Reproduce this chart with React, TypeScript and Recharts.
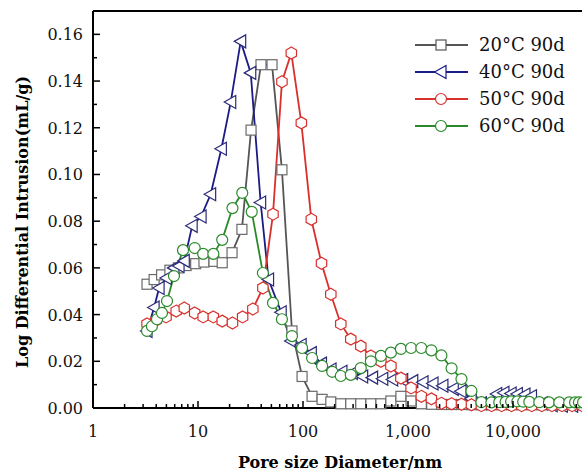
import React from 'react';
import { LineChart, Line, XAxis, YAxis, ReferenceLine } from 'recharts';

const FONT = '"DejaVu Serif", "Liberation Serif", serif';

// pore diameter (nm) / log differential intrusion (mL/g)
const x20 = [3.27, 3.82, 4.5, 5.4, 6.5, 7.7, 9.5, 11.4, 14.2, 17.0, 21.1, 26.2, 32, 39.8, 50.7, 63, 78.5, 98, 122, 152, 184, 229, 285, 355, 443, 552, 687, 856, 1070, 1340, 1680, 2100, 2600, 3250, 4050, 5050, 6300, 7850, 9800, 12200, 15200, 19000, 23700, 29500, 36800, 45800];
const y20 = [0.053, 0.055, 0.057, 0.059, 0.06, 0.061, 0.0618, 0.0625, 0.0628, 0.0622, 0.0665, 0.0765, 0.119, 0.147, 0.147, 0.102, 0.033, 0.0135, 0.005, 0.0037, 0.0026, 0.0018, 0.0018, 0.0018, 0.0018, 0.0018, 0.003, 0.005, 0.003, 0.0018, 0.0016, 0.0015, 0.0015, 0.0015, 0.0014, 0.0014, 0.0014, 0.0014, 0.0014, 0.0014, 0.0014, 0.0014, 0.0014, 0.0014, 0.0014, 0.0014];

const x40 = [3.27, 3.82, 4.26, 5.0, 5.9, 6.6, 7.4, 8.8, 10.7, 13.2, 16.7, 20.5, 25.5, 31.8, 39.5, 47, 62, 77, 96, 120, 150, 185, 235, 295, 370, 460, 575, 715, 890, 1110, 1390, 1730, 2150, 2700, 3200, 4000, 5000, 5900, 7000, 8200, 9600, 11000, 13000, 15000, 19000, 23600, 29500, 37000, 46000];
const y40 = [0.033, 0.043, 0.0514, 0.0557, 0.06, 0.0608, 0.063, 0.078, 0.082, 0.0915, 0.111, 0.131, 0.157, 0.1435, 0.088, 0.055, 0.041, 0.0287, 0.027, 0.0235, 0.019, 0.0165, 0.0155, 0.015, 0.0135, 0.013, 0.0125, 0.0122, 0.012, 0.0115, 0.011, 0.0105, 0.0095, 0.0082, 0.0072, 0.004, 0.002, 0.002, 0.006, 0.0065, 0.0062, 0.006, 0.0058, 0.005, 0.002, 0.0012, 0.001, 0.001, 0.001];

const x50 = [3.27, 3.98, 4.96, 6.2, 7.4, 9.3, 11.2, 14.0, 17.0, 21.3, 26.6, 33.3, 41.5, 51.8, 63, 77.4, 96.4, 120, 150, 184, 229, 285, 355, 443, 552, 687, 856, 1070, 1340, 1670, 2080, 2600, 3230, 4020, 5000, 6250, 7800, 9700, 12100, 15100, 18800, 23500, 29300, 36500, 45500];
const y50 = [0.036, 0.0375, 0.039, 0.0415, 0.0428, 0.0407, 0.039, 0.039, 0.0372, 0.0364, 0.039, 0.0424, 0.0514, 0.083, 0.1397, 0.152, 0.1221, 0.0808, 0.062, 0.0487, 0.036, 0.0295, 0.0265, 0.0223, 0.02, 0.018, 0.0128, 0.0086, 0.005, 0.0039, 0.002, 0.0018, 0.0016, 0.0014, 0.001, 0.001, 0.001, 0.001, 0.001, 0.001, 0.001, 0.001, 0.001, 0.001, 0.001];

const x60 = [3.27, 3.64, 4.07, 4.54, 5.07, 5.9, 7.2, 9.3, 11.2, 14.0, 17.0, 21.3, 26.4, 32.5, 41.5, 51.8, 63, 78.5, 98, 122, 152, 190, 229, 285, 355, 443, 552, 687, 856, 1070, 1340, 1670, 2080, 2600, 3230, 4020, 5000, 6230, 7400, 8500, 9600, 11000, 12500, 14300, 17800, 22000, 27600, 34300, 39000, 42500, 46500];
const y60 = [0.033, 0.035, 0.038, 0.0407, 0.0458, 0.0565, 0.0676, 0.0685, 0.066, 0.066, 0.072, 0.0856, 0.0921, 0.084, 0.0578, 0.045, 0.038, 0.0308, 0.0257, 0.0214, 0.018, 0.0155, 0.0137, 0.0142, 0.0171, 0.02, 0.0223, 0.0237, 0.0253, 0.0257, 0.0257, 0.0247, 0.0225, 0.017, 0.0124, 0.0073, 0.0025, 0.0024, 0.0025, 0.0026, 0.0028, 0.0028, 0.0027, 0.0026, 0.0025, 0.0024, 0.0024, 0.0024, 0.0024, 0.0024, 0.0024];

const SERIES_NAMES = ['20°C 90d', '40°C 90d', '50°C 90d', '60°C 90d'];

const xTicks = [1, 2, 3, 4, 5, 6, 7, 8, 9, 10, 20, 30, 40, 50, 60, 70, 80, 90, 100, 200, 300, 400, 500, 600, 700, 800, 900, 1000, 2000, 3000, 4000, 5000, 6000, 7000, 8000, 9000, 10000, 20000, 30000, 40000, 50000, 60000, 70000, 80000, 90000, 100000];
const xLabelled = [1, 10, 100, 1000, 10000];
const yTicks = [0, 0.01, 0.02, 0.03, 0.04, 0.05, 0.06, 0.07, 0.08, 0.09, 0.1, 0.11, 0.12, 0.13, 0.14, 0.15, 0.16];

const zip = (xs: number[], ys: number[]) => xs.map((x, i) => ({ x, y: ys[i] }));
const d20 = zip(x20, y20);
const d40 = zip(x40, y40);
const d50 = zip(x50, y50);
const d60 = zip(x60, y60);

const GRAY = '#555555';
const BLUE = '#1b1b86';
const RED = '#d8302c';
const GREEN = '#2a8a2a';

type Mark = 'square' | 'triangle' | 'hexagon' | 'circle';

const Marker = ({ cx, cy, kind, color }: { cx: number; cy: number; kind: Mark; color: string }) => {
  if (kind === 'square') {
    return <rect x={cx - 5} y={cy - 5} width={10} height={10} fill="#fff" stroke={color} strokeWidth={1.2} />;
  }
  if (kind === 'triangle') {
    return <polygon points={`${cx - 6.5},${cy} ${cx + 5},${cy - 6.5} ${cx + 5},${cy + 6.5}`} fill="#fff" stroke={color} strokeWidth={1.2} />;
  }
  if (kind === 'hexagon') {
    const r = 6;
    const pts = [0, 1, 2, 3, 4, 5]
      .map((k) => {
        const a = (Math.PI / 3) * k - Math.PI / 2;
        return `${cx + r * Math.cos(a)},${cy + r * Math.sin(a)}`;
      })
      .join(' ');
    return <polygon points={pts} fill="#fff" stroke={color} strokeWidth={1.2} />;
  }
  return <circle cx={cx} cy={cy} r={5.5} fill="#fff" stroke={color} strokeWidth={1.2} />;
};

const dotFor = (kind: Mark, color: string) => (props: any) => {
  const { cx, cy, index } = props;
  if (cx == null || cy == null) return <g key={`${kind}-${index}`} />;
  return <Marker key={`${kind}-${index}`} cx={cx} cy={cy} kind={kind} color={color} />;
};

const textStyle = { fontFamily: FONT };

const YTick = (props: any) => {
  const { x, y, payload } = props;
  const v = payload.value as number;
  const major = Math.round(v * 100) % 2 === 0;
  return (
    <g>
      <line x1={x} y1={y} x2={x + (major ? 7 : 4)} y2={y} stroke="#000" strokeWidth={1.5} />
      {major && (
        <text x={x - 10} y={y + 6} textAnchor="end" style={textStyle} fontSize={16} fill="#111">
          {v.toFixed(2)}
        </text>
      )}
    </g>
  );
};

const XTick = (props: any) => {
  const { x, y, payload } = props;
  const v = payload.value as number;
  const major = v === 1 || v === 10 || v === 100 || v === 1000 || v === 10000 || v === 100000;
  return (
    <g>
      <line x1={x} y1={y} x2={x} y2={y - (major ? 7 : 4)} stroke="#000" strokeWidth={1.5} />
      {xLabelled.includes(v) && (
        <text x={x} y={y + 29} textAnchor="middle" style={textStyle} fontSize={16} fill="#111">
          {v.toLocaleString('en-US')}
        </text>
      )}
    </g>
  );
};

const XTitle = () => (
  <text x={340} y={468} textAnchor="middle" style={textStyle} fontSize={16} fontWeight="bold" fill="#000">
    Pore size Diameter/nm
  </text>
);

const YTitle = () => (
  <text x={28} y={222} transform="rotate(-90 28 222)" textAnchor="middle" style={textStyle} fontSize={16} fontWeight="bold" fill="#000">
    Log Differential Intrusion(mL/g)
  </text>
);

const legendRows: { kind: Mark; color: string }[] = [
  { kind: 'square', color: GRAY },
  { kind: 'triangle', color: BLUE },
  { kind: 'circle', color: RED },
  { kind: 'circle', color: GREEN },
];

export default function App() {
  return (
    <div style={{ position: 'fixed', left: 0, top: 0, width: 582, height: 473, overflow: 'hidden', background: '#fff', fontFamily: FONT }}>
      <LineChart width={640} height={473} margin={{ top: 11, right: 22, bottom: 0, left: 0 }} style={{ fontFamily: FONT }}>
        <XAxis
          dataKey="x"
          type="number"
          scale="log"
          domain={[1, 100000]}
          ticks={xTicks}
          interval={0}
          allowDataOverflow
          height={65}
          tickSize={0}
          tickMargin={0}
          tickLine={false}
          axisLine={{ stroke: '#000', strokeWidth: 2 }}
          tick={<XTick />}
          label={<XTitle />}
        />
        <YAxis
          type="number"
          domain={[0, 0.17]}
          ticks={yTicks}
          interval={0}
          width={93}
          tickSize={0}
          tickMargin={0}
          tickLine={false}
          axisLine={{ stroke: '#000', strokeWidth: 2 }}
          tick={<YTick />}
          label={<YTitle />}
        />
        <ReferenceLine y={0.17} stroke="#000" strokeWidth={2} />
        <Line data={d20} dataKey="y" name={SERIES_NAMES[0]} stroke={GRAY} strokeWidth={1.8} dot={dotFor('square', '#6a6a6a')} isAnimationActive={false} />
        <Line data={d40} dataKey="y" name={SERIES_NAMES[1]} stroke={BLUE} strokeWidth={1.8} dot={dotFor('triangle', '#2c2c7a')} isAnimationActive={false} />
        <Line data={d50} dataKey="y" name={SERIES_NAMES[2]} stroke={RED} strokeWidth={1.8} dot={dotFor('hexagon', RED)} isAnimationActive={false} />
        <Line data={d60} dataKey="y" name={SERIES_NAMES[3]} stroke={GREEN} strokeWidth={1.8} dot={dotFor('circle', GREEN)} isAnimationActive={false} />
      </LineChart>
      <svg width={172} height={110} style={{ position: 'absolute', left: 410, top: 30 }}>
        {legendRows.map((r, i) => {
          const cy = 15 + i * 27;
          return (
            <g key={SERIES_NAMES[i]}>
              <line x1={5} y1={cy} x2={58} y2={cy} stroke={r.color} strokeWidth={1.8} />
              <Marker cx={31} cy={cy} kind={r.kind} color={r.color} />
              <text x={69} y={cy + 6} style={textStyle} fontSize={18} fill="#111">
                {SERIES_NAMES[i]}
              </text>
            </g>
          );
        })}
      </svg>
    </div>
  );
}
